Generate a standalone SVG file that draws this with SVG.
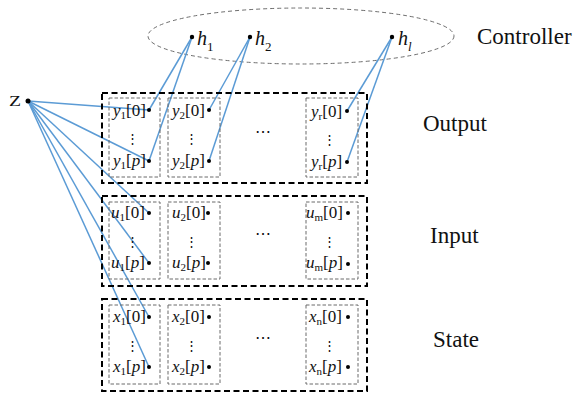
<svg xmlns="http://www.w3.org/2000/svg" width="576" height="397" viewBox="0 0 576 397">
  <style>
    text { font-family: "Liberation Serif", "Times New Roman", serif; fill: #111; }
    .lbl { font-size: 17px; }
    .sub { font-size: 11px; }
    .it { font-style: italic; }
    .big { font-size: 23px; }
    .h { font-size: 20px; font-style: italic; }
    .hsub { font-size: 13px; }
    .outer { fill: none; stroke: #000; stroke-width: 2; stroke-dasharray: 6 3.5; }
    .inner { fill: none; stroke: #6a6a6a; stroke-width: 1; stroke-dasharray: 3.5 2; }
    .ring { fill: none; stroke: #6e6e6e; stroke-width: 1; stroke-dasharray: 4 3; }
    .wire { stroke: #5b9bd5; stroke-width: 1.5; fill: none; }
    .vd { font-size: 13px; }
  </style>

  <!-- controller -->
  <g id="controller">
    <ellipse class="ring" cx="301" cy="36" rx="153" ry="28"/>
    <text class="big" x="477" y="44">Controller</text>
  </g>

  <!-- connectors -->
  <g id="connectors" class="wire">
    <line x1="28" y1="101" x2="149" y2="110"/>
    <line x1="28" y1="101" x2="149" y2="161"/>
    <line x1="28" y1="101" x2="149" y2="213"/>
    <line x1="28" y1="101" x2="149" y2="263"/>
    <line x1="28" y1="101" x2="149" y2="317"/>
    <line x1="28" y1="101" x2="149" y2="367"/>
    <line x1="192" y1="37" x2="149" y2="110"/>
    <line x1="192" y1="37" x2="149" y2="161"/>
    <line x1="250" y1="37" x2="209" y2="110"/>
    <line x1="250" y1="37" x2="209" y2="161"/>
    <line x1="392" y1="37" x2="347" y2="111"/>
    <line x1="392" y1="37" x2="347" y2="162"/>
  </g>

  <!-- controller nodes -->
  <g id="h1">
    <circle cx="192" cy="37" r="2.2"/>
    <text x="197" y="45"><tspan class="h">h</tspan><tspan class="hsub" dy="6">1</tspan></text>
  </g>
  <g id="h2">
    <circle cx="250" cy="37" r="2.2"/>
    <text x="255" y="45"><tspan class="h">h</tspan><tspan class="hsub" dy="6">2</tspan></text>
  </g>
  <g id="hl">
    <circle cx="392" cy="37" r="2.2"/>
    <text x="398" y="45"><tspan class="h">h</tspan><tspan class="hsub it" dy="6">l</tspan></text>
  </g>

  <!-- Z -->
  <g id="z">
    <circle cx="28" cy="101" r="2.5"/>
    <text x="9" y="106" font-size="14" textLength="12" lengthAdjust="spacingAndGlyphs">Z</text>
  </g>

  <!-- Output block -->
  <g id="output">
    <rect class="outer" x="102" y="93" width="265" height="90"/>
    <rect class="inner" x="109" y="98" width="51" height="79"/>
    <rect class="inner" x="168" y="98" width="52" height="79"/>
    <rect class="inner" x="306" y="98" width="52" height="79"/>
    <text class="lbl" x="113" y="116"><tspan class="it">y</tspan><tspan class="sub" dy="3">1</tspan><tspan dy="-3">[0]</tspan></text>
    <text class="lbl" x="113" y="166"><tspan class="it">y</tspan><tspan class="sub" dy="3">1</tspan><tspan dy="-3">[</tspan><tspan class="it">p</tspan><tspan>]</tspan></text>
    <text class="lbl" x="172" y="116"><tspan class="it">y</tspan><tspan class="sub" dy="3">2</tspan><tspan dy="-3">[0]</tspan></text>
    <text class="lbl" x="172" y="166"><tspan class="it">y</tspan><tspan class="sub" dy="3">2</tspan><tspan dy="-3">[</tspan><tspan class="it">p</tspan><tspan>]</tspan></text>
    <text class="lbl" x="311" y="117"><tspan class="it">y</tspan><tspan class="sub" dy="3">r</tspan><tspan dy="-3">[0]</tspan></text>
    <text class="lbl" x="311" y="167"><tspan class="it">y</tspan><tspan class="sub" dy="3">r</tspan><tspan dy="-3">[</tspan><tspan class="it">p</tspan><tspan>]</tspan></text>
    <circle cx="149" cy="110" r="2"/><circle cx="149" cy="161" r="2"/>
    <circle cx="209" cy="110" r="2"/><circle cx="209" cy="161" r="2"/>
    <circle cx="347" cy="111" r="2"/><circle cx="347" cy="162" r="2"/>
    <text class="vd" x="132" y="143" text-anchor="middle">⋮</text>
    <text class="vd" x="191" y="143" text-anchor="middle">⋮</text>
    <text class="vd" x="329" y="144" text-anchor="middle">⋮</text>
    <text x="262.5" y="137" font-size="16" text-anchor="middle">⋯</text>
    <text class="big" x="423" y="131">Output</text>
  </g>

  <!-- Input block -->
  <g id="input">
    <rect class="outer" x="102" y="196" width="265" height="90"/>
    <rect class="inner" x="109" y="202" width="51" height="77"/>
    <rect class="inner" x="168" y="202" width="52" height="77"/>
    <rect class="inner" x="306" y="202" width="52" height="77"/>
    <text class="lbl" x="111" y="218"><tspan class="it">u</tspan><tspan class="sub" dy="3">1</tspan><tspan dy="-3">[0]</tspan></text>
    <text class="lbl" x="111" y="268"><tspan class="it">u</tspan><tspan class="sub" dy="3">1</tspan><tspan dy="-3">[</tspan><tspan class="it">p</tspan><tspan>]</tspan></text>
    <text class="lbl" x="172" y="218"><tspan class="it">u</tspan><tspan class="sub" dy="3">2</tspan><tspan dy="-3">[0]</tspan></text>
    <text class="lbl" x="172" y="268"><tspan class="it">u</tspan><tspan class="sub" dy="3">2</tspan><tspan dy="-3">[</tspan><tspan class="it">p</tspan><tspan>]</tspan></text>
    <text class="lbl" x="306" y="218"><tspan class="it">u</tspan><tspan class="sub" dy="3">m</tspan><tspan dy="-3">[0]</tspan></text>
    <text class="lbl" x="306" y="268"><tspan class="it">u</tspan><tspan class="sub" dy="3">m</tspan><tspan dy="-3">[</tspan><tspan class="it">p</tspan><tspan>]</tspan></text>
    <circle cx="149" cy="213" r="2"/><circle cx="149" cy="263" r="2"/>
    <circle cx="208" cy="213" r="2"/><circle cx="208" cy="263" r="2"/>
    <circle cx="348" cy="213" r="2"/><circle cx="348" cy="264" r="2"/>
    <text class="vd" x="132" y="246" text-anchor="middle">⋮</text>
    <text class="vd" x="191" y="246" text-anchor="middle">⋮</text>
    <text class="vd" x="329" y="246" text-anchor="middle">⋮</text>
    <text x="262.5" y="239" font-size="16" text-anchor="middle">⋯</text>
    <text class="big" x="430" y="243">Input</text>
  </g>

  <!-- State block -->
  <g id="state">
    <rect class="outer" x="102" y="299" width="265" height="92"/>
    <rect class="inner" x="109" y="305" width="51" height="79"/>
    <rect class="inner" x="168" y="305" width="52" height="79"/>
    <rect class="inner" x="306" y="305" width="52" height="79"/>
    <text class="lbl" x="113" y="322"><tspan class="it">x</tspan><tspan class="sub" dy="3">1</tspan><tspan dy="-3">[0]</tspan></text>
    <text class="lbl" x="113" y="372"><tspan class="it">x</tspan><tspan class="sub" dy="3">1</tspan><tspan dy="-3">[</tspan><tspan class="it">p</tspan><tspan>]</tspan></text>
    <text class="lbl" x="172" y="322"><tspan class="it">x</tspan><tspan class="sub" dy="3">2</tspan><tspan dy="-3">[0]</tspan></text>
    <text class="lbl" x="172" y="372"><tspan class="it">x</tspan><tspan class="sub" dy="3">2</tspan><tspan dy="-3">[</tspan><tspan class="it">p</tspan><tspan>]</tspan></text>
    <text class="lbl" x="309" y="322"><tspan class="it">x</tspan><tspan class="sub" dy="3">n</tspan><tspan dy="-3">[0]</tspan></text>
    <text class="lbl" x="309" y="372"><tspan class="it">x</tspan><tspan class="sub" dy="3">n</tspan><tspan dy="-3">[</tspan><tspan class="it">p</tspan><tspan>]</tspan></text>
    <circle cx="149" cy="317" r="2"/><circle cx="149" cy="367" r="2"/>
    <circle cx="209" cy="317" r="2"/><circle cx="209" cy="367" r="2"/>
    <circle cx="348" cy="317" r="2"/><circle cx="348" cy="367" r="2"/>
    <text class="vd" x="132" y="350" text-anchor="middle">⋮</text>
    <text class="vd" x="191" y="350" text-anchor="middle">⋮</text>
    <text class="vd" x="329" y="350" text-anchor="middle">⋮</text>
    <text x="262.5" y="343" font-size="16" text-anchor="middle">⋯</text>
    <text class="big" x="433" y="347">State</text>
  </g>
</svg>
